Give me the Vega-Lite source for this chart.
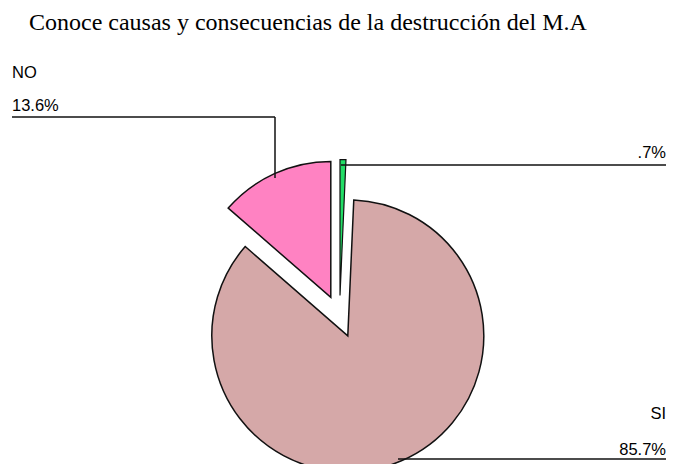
{
  "$schema": "https://vega.github.io/schema/vega-lite/v6.json",
  "width": 677,
  "height": 424,
  "autosize": "none",
  "padding": {"top": 40, "left": 0, "right": 0, "bottom": 0},
  "background": "white",
  "config": {"view": {"stroke": null}},
  "title": {
    "text": "Conoce causas y consecuencias de la destrucción del M.A",
    "anchor": "start",
    "frame": "group",
    "orient": "top",
    "baseline": "alphabetic",
    "offset": -14,
    "dx": 29,
    "font": "Liberation Serif",
    "fontSize": 24,
    "fontWeight": "normal",
    "color": "#000000"
  },
  "layer": [
    {
      "data": {
        "values": [
          {"categoria": "Sin respuesta", "porcentaje": 0.7, "orden": 1},
          {"categoria": "SI", "porcentaje": 85.7, "orden": 2},
          {"categoria": "NO", "porcentaje": 13.6, "orden": 3}
        ]
      },
      "transform": [
        {"stack": "porcentaje", "groupby": [], "sort": [{"field": "orden"}], "as": ["p0", "p1"]}
      ],
      "encoding": {
        "x": {"datum": 339.5, "type": "quantitative", "scale": {"domain": [0, 677], "nice": false, "zero": false}, "axis": null},
        "y": {"datum": 316.5, "type": "quantitative", "scale": {"domain": [40, 464], "nice": false, "zero": false, "reverse": true}, "axis": null},
        "theta": {"field": "p0", "type": "quantitative", "scale": {"domain": [0, 100]}},
        "theta2": {"field": "p1"}
      },
      "layer": [
        {
          "transform": [{"filter": "datum.categoria === 'SI'"}],
          "mark": {"type": "arc", "outerRadius": 136, "fill": "#d5a8a8", "stroke": "#111111", "strokeWidth": 1.5, "xOffset": 8.3, "yOffset": 19.3}
        },
        {
          "transform": [{"filter": "datum.categoria === 'NO'"}],
          "mark": {"type": "arc", "outerRadius": 136, "fill": "#ff82c2", "stroke": "#111111", "strokeWidth": 1.5, "xOffset": -8.7, "yOffset": -19.1}
        },
        {
          "transform": [{"filter": "datum.categoria === 'Sin respuesta'"}],
          "mark": {"type": "arc", "outerRadius": 136, "fill": "#22dd66", "stroke": "#111111", "strokeWidth": 1.2, "xOffset": 0.5, "yOffset": -21}
        }
      ]
    },
    {
      "data": {
        "values": [
          {"x": 12, "y": 117, "x2": 275, "y2": 117},
          {"x": 275, "y": 117, "x2": 275, "y2": 178},
          {"x": 341, "y": 165, "x2": 666, "y2": 165},
          {"x": 398, "y": 459, "x2": 666, "y2": 459}
        ]
      },
      "mark": {"type": "rule", "stroke": "#111111", "strokeWidth": 1.5},
      "encoding": {
        "x": {"field": "x", "type": "quantitative", "scale": {"domain": [0, 677], "nice": false, "zero": false}, "axis": null},
        "y": {"field": "y", "type": "quantitative", "scale": {"domain": [40, 464], "nice": false, "zero": false, "reverse": true}, "axis": null},
        "x2": {"field": "x2"},
        "y2": {"field": "y2"}
      }
    },
    {
      "data": {
        "values": [
          {"texto": "NO", "x": 12, "y": 78, "lado": "izq"},
          {"texto": "13.6%", "x": 12, "y": 111, "lado": "izq"},
          {"texto": ".7%", "x": 666, "y": 158, "lado": "der"},
          {"texto": "SI", "x": 666, "y": 419, "lado": "der"},
          {"texto": "85.7%", "x": 666, "y": 455, "lado": "der"}
        ]
      },
      "encoding": {
        "x": {"field": "x", "type": "quantitative", "scale": {"domain": [0, 677], "nice": false, "zero": false}, "axis": null},
        "y": {"field": "y", "type": "quantitative", "scale": {"domain": [40, 464], "nice": false, "zero": false, "reverse": true}, "axis": null},
        "text": {"field": "texto"}
      },
      "layer": [
        {
          "transform": [{"filter": "datum.lado === 'izq'"}],
          "mark": {"type": "text", "align": "left", "baseline": "alphabetic", "font": "Liberation Sans", "fontSize": 16.5, "letterSpacing": 0.4, "color": "#000000"}
        },
        {
          "transform": [{"filter": "datum.lado === 'der'"}],
          "mark": {"type": "text", "align": "right", "baseline": "alphabetic", "font": "Liberation Sans", "fontSize": 16.5, "letterSpacing": 0.4, "color": "#000000"}
        }
      ]
    }
  ]
}
